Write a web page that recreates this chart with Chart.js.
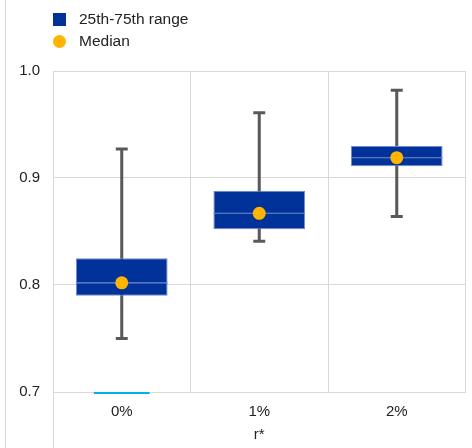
<!DOCTYPE html>
<html>
<head>
<meta charset="utf-8">
<script src="https://cdn.jsdelivr.net/npm/chart.js@4"></script>
<style>
    body { margin: 0; background: #fff; }
    #wrap { position: relative; width: 472px; height: 448px; }
    #legend { position: absolute; left: 53px; top: 8px; font-family: "Liberation Sans", Arial, sans-serif; font-size: 15.5px; color: #222; }
    .item { display: flex; align-items: center; height: 22px; }
    .sq { width: 13px; height: 13px; background: #003299; margin-right: 13px; }
    .dot { width: 13px; height: 13px; border-radius: 50%; background: #ffb400; margin-right: 13px; }
</style>
</head>
<body>
<div id="wrap">
    <canvas id="chart"></canvas>
    <div id="legend">
        <div class="item"><span class="sq"></span>25th-75th range</div>
        <div class="item"><span class="dot"></span>Median</div>
    </div>
</div>
<script>
const categories = ['0%', '1%', '2%'];
const q25 = [0.790, 0.852, 0.911];
const q75 = [0.825, 0.888, 0.930];
const medians = [0.802, 0.867, 0.919];
const whiskerLow = [0.750, 0.841, 0.864];
const whiskerHigh = [0.927, 0.961, 0.982];
const baseMarker = [0.700, null, null];
const yMin = 0.7, yMax = 1.0, yStep = 0.1;

const grey = '#d9d9d9';

// thin band around a value, used for caps and the median line
function band(v, h) {
    return v == null ? null : [v - h, v + h];
}

const frameLines = {
    id: 'frameLines',
    beforeDraw(chart) {
        const ctx = chart.ctx;
        const area = chart.chartArea;
        ctx.save();
        ctx.strokeStyle = grey;
        ctx.lineWidth = 1;
        ctx.beginPath();
        ctx.moveTo(5.5, 0);
        ctx.lineTo(5.5, chart.height);
        ctx.moveTo(Math.round(area.left) + 0.5, area.bottom);
        ctx.lineTo(Math.round(area.left) + 0.5, chart.height);
        ctx.stroke();
        ctx.restore();
    }
};

const ctx = document.getElementById('chart').getContext('2d');

new Chart(ctx, {
    type: 'bar',
    data: {
        labels: categories,
        datasets: [
            {
                type: 'line',
                label: 'Median',
                data: medians,
                showLine: false,
                pointRadius: 6.5,
                pointHoverRadius: 6.5,
                pointBackgroundColor: '#ffb400',
                pointBorderWidth: 0,
                order: 0,
            },
            {
                label: 'median line',
                data: medians.map(m => band(m, 0.0005)),
                backgroundColor: '#6f8cd0',
                barPercentage: 0.667,
                categoryPercentage: 1,
                grouped: false,
                order: 1,
            },
            {
                label: '25th-75th range',
                data: q25.map((v, i) => [v, q75[i]]),
                backgroundColor: '#003299',
                borderColor: '#6f8cd0',
                borderWidth: 1,
                borderSkipped: false,
                barPercentage: 0.667,
                categoryPercentage: 1,
                grouped: false,
                order: 2,
            },
            {
                label: 'whisker',
                data: whiskerLow.map((v, i) => [v, whiskerHigh[i]]),
                backgroundColor: '#595959',
                barPercentage: 0.022,
                categoryPercentage: 1,
                grouped: false,
                order: 3,
            },
            {
                label: 'cap low',
                data: whiskerLow.map(v => band(v, 0.0014)),
                backgroundColor: '#595959',
                barPercentage: 0.087,
                categoryPercentage: 1,
                grouped: false,
                order: 4,
            },
            {
                label: 'cap high',
                data: whiskerHigh.map(v => band(v, 0.0014)),
                backgroundColor: '#595959',
                barPercentage: 0.087,
                categoryPercentage: 1,
                grouped: false,
                order: 4,
            },
            {
                label: 'base',
                data: baseMarker.map(v => v == null ? null : [v - 0.0019, v]),
                backgroundColor: '#00b1ea',
                barPercentage: 0.406,
                categoryPercentage: 1,
                grouped: false,
                clip: false,
                order: 5,
            },
        ]
    },
    options: {
        responsive: true,
        maintainAspectRatio: false,
        animation: false,
        layout: {
            padding: { top: 71, right: 5, bottom: 0, left: 0 }
        },
        plugins: {
            legend: { display: false },
            tooltip: { enabled: false },
        },
        scales: {
            x: {
                offset: true,
                grid: { color: grey, offset: true, drawTicks: false },
                border: { color: grey },
                ticks: {
                    padding: 11,
                    color: '#222',
                    font: { family: 'Liberation Sans', size: 15 },
                },
                title: {
                    display: true,
                    text: 'r*',
                    color: '#222',
                    padding: { top: 0, bottom: 4 },
                    font: { family: 'Liberation Sans', size: 15 },
                },
                afterFit: (scale) => { scale.height = 56; },
            },
            y: {
                min: yMin,
                max: yMax,
                grid: { color: grey, drawTicks: false },
                border: { color: grey },
                ticks: {
                    stepSize: yStep,
                    padding: 13,
                    color: '#222',
                    font: { family: 'Liberation Sans', size: 15 },
                    callback: (value) => value.toFixed(1),
                },
                afterFit: (scale) => { scale.width = 53; },
            }
        }
    },
    plugins: [frameLines]
});
</script>
</body>
</html>
